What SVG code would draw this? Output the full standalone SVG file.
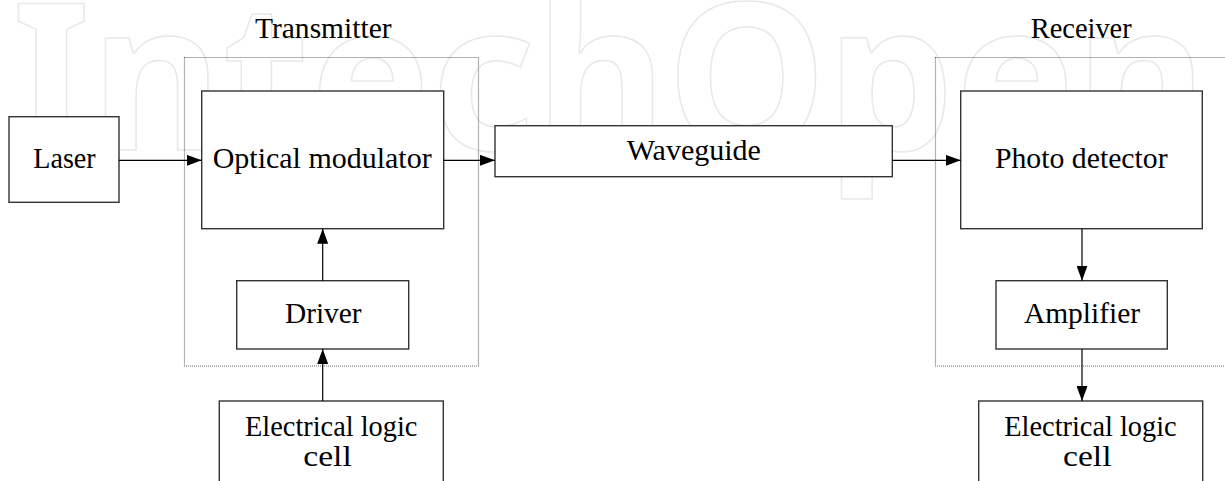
<svg xmlns="http://www.w3.org/2000/svg" width="1225" height="481" viewBox="0 0 1225 481" font-family="'Liberation Serif', 'DejaVu Serif', serif">
  <defs>
    <marker id="arrow" markerUnits="userSpaceOnUse" markerWidth="15" markerHeight="11" refX="15" refY="5.5" orient="auto">
      <path d="M0,0 L15,5.5 L0,11 Z" fill="#000"/>
    </marker>
    <style>
      .box { fill: #fff; stroke: #333; stroke-width: 1.4; }
      .frame { fill: none; stroke: #666; stroke-width: 1.2; stroke-dasharray: 1 1; }
      .lbl { font-size: 29px; fill: #000; text-anchor: middle; }
      .wire { fill: none; stroke: #000; stroke-width: 1.2; marker-end: url(#arrow); }
      .mark { font-size: 205px; font-weight: bold; fill: #fff; stroke: #e8e8e8; stroke-width: 1.5; }
    </style>
  </defs>

  <rect width="1225" height="481" fill="#fff"/>

  <!-- faint publisher mark behind the drawing -->
  <text class="mark" font-family="'Noto Sans', 'Open Sans', sans-serif" x="12" y="150" textLength="1195" lengthAdjust="spacingAndGlyphs">IntechOpen</text>

  <!-- transmitter frame -->
  <g id="transmitter">
    <rect class="frame" x="184.5" y="57.5" width="294" height="308.5"/>
    <text class="lbl" x="323.3" y="38.3" textLength="136.7" lengthAdjust="spacingAndGlyphs">Transmitter</text>
  </g>

  <!-- receiver frame (runs past the right edge) -->
  <g id="receiver">
    <rect class="frame" x="935.5" y="57.5" width="300" height="308.5"/>
    <text class="lbl" x="1081.2" y="38.3" textLength="101" lengthAdjust="spacingAndGlyphs">Receiver</text>
  </g>

  <g id="laser">
    <rect class="box" x="9" y="116.7" width="110" height="85.6"/>
    <text class="lbl" x="64.5" y="168.3" textLength="62.4" lengthAdjust="spacingAndGlyphs">Laser</text>
  </g>

  <g id="optical-modulator">
    <rect class="box" x="201.7" y="91" width="242" height="137.7"/>
    <text class="lbl" x="322.2" y="168.3" textLength="219" lengthAdjust="spacingAndGlyphs">Optical modulator</text>
  </g>

  <g id="driver">
    <rect class="box" x="236.7" y="280.7" width="172" height="68.3"/>
    <text class="lbl" x="323.3" y="322.7" textLength="76.7" lengthAdjust="spacingAndGlyphs">Driver</text>
  </g>

  <g id="logic-cell-tx">
    <rect class="box" x="219.3" y="401" width="224" height="100"/>
    <text class="lbl" x="331.2" y="436" textLength="172.3" lengthAdjust="spacingAndGlyphs">Electrical logic</text>
    <text class="lbl" x="327.5" y="466" textLength="48.4" lengthAdjust="spacingAndGlyphs">cell</text>
  </g>

  <g id="waveguide">
    <rect class="box" x="495" y="125.7" width="397.3" height="51"/>
    <text class="lbl" x="693.8" y="160" textLength="134.3" lengthAdjust="spacingAndGlyphs">Waveguide</text>
  </g>

  <g id="photo-detector">
    <rect class="box" x="960.7" y="91" width="241.6" height="137.7"/>
    <text class="lbl" x="1081.3" y="168.3" textLength="172.7" lengthAdjust="spacingAndGlyphs">Photo detector</text>
  </g>

  <g id="amplifier">
    <rect class="box" x="996" y="280.7" width="171.3" height="68.3"/>
    <text class="lbl" x="1082" y="322.7" textLength="116" lengthAdjust="spacingAndGlyphs">Amplifier</text>
  </g>

  <g id="logic-cell-rx">
    <rect class="box" x="978.7" y="401" width="224" height="100"/>
    <text class="lbl" x="1090.5" y="436" textLength="172.4" lengthAdjust="spacingAndGlyphs">Electrical logic</text>
    <text class="lbl" x="1087.3" y="466" textLength="48.4" lengthAdjust="spacingAndGlyphs">cell</text>
  </g>

  <g id="connectors">
    <line class="wire" x1="119" y1="160.3" x2="201.7" y2="160.3"/>
    <line class="wire" x1="443.7" y1="160.3" x2="495" y2="160.3"/>
    <line class="wire" x1="892.3" y1="160.3" x2="960.7" y2="160.3"/>
    <line class="wire" x1="322.7" y1="280.7" x2="322.7" y2="228.7"/>
    <line class="wire" x1="322.7" y1="401" x2="322.7" y2="349"/>
    <line class="wire" x1="1082" y1="228.7" x2="1082" y2="280.7"/>
    <line class="wire" x1="1082" y1="349" x2="1082" y2="401"/>
  </g>
</svg>
